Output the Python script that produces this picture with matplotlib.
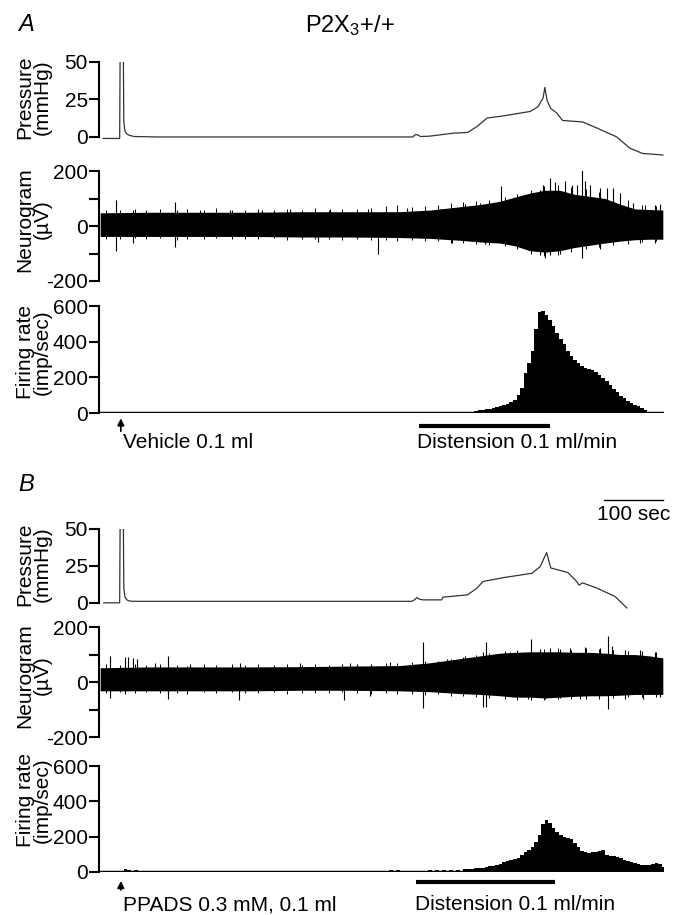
import matplotlib.pyplot as plt
import matplotlib.transforms as mtransforms

plt.rcParams['font.family'] = ['Liberation Sans', 'DejaVu Sans']

# time axis in seconds
T_MAX = 958
BIN = 6

# --- pressure traces (sec, mmHg)
press_a_t = [7, 33, 35, 36, 41, 42, 44, 47, 52, 60, 100, 300, 532, 536, 540, 545, 560, 580, 600,
             625, 641, 658, 685, 731, 744, 753, 756, 760, 766, 776, 786, 820, 844, 878, 900, 922, 956]
press_a_v = [-1, -1, -1, 70, 70, 10, 4, 2, 1, 0.3, 0, 0, 0, 1.5, 1.5, 0.3, 0.5, 1.5, 2.5,
             3, 7, 12.6, 14, 17, 20, 26, 33, 24, 19, 16, 11, 10, 6, 0, -7.5, -11, -12]
press_b_t = [8, 34, 35, 36, 41, 42, 44, 47, 52, 60, 100, 300, 530, 535, 539, 543, 549, 581, 583,
             625, 641, 651, 685, 734, 748, 759, 766, 795, 810, 814, 820, 844, 875, 895]
press_b_v = [0, 0, 0, 70, 70, 10, 4, 2, 1.2, 1, 1, 1, 1, 2, 3.6, 2.5, 2, 2, 3.8,
             5.4, 10, 14.4, 17, 20, 24.5, 34, 23.6, 20.5, 14.4, 12, 13.5, 10, 4.3, -3.5]

# --- neurogram envelopes (sec, uV)
env_t = [2, 86, 171, 256, 341, 425, 510, 561, 612, 646, 680, 705, 731, 756, 781, 807, 832, 858, 883, 909, 934, 956]
neuro_a_up = [48, 50, 50, 50, 52, 52, 52, 58, 70, 78, 90, 105, 120, 130, 130, 115, 108, 100, 80, 62, 60, 58]
neuro_a_lo = [-38, -38, -38, -38, -40, -40, -42, -45, -52, -58, -62, -72, -90, -95, -90, -78, -70, -62, -55, -50, -48, -48]
neuro_b_up = [52, 55, 55, 55, 56, 58, 60, 70, 85, 95, 105, 108, 110, 110, 110, 108, 108, 105, 100, 100, 95, 88]
neuro_b_lo = [-32, -32, -32, -32, -30, -30, -32, -35, -42, -45, -50, -55, -55, -58, -55, -52, -50, -50, -48, -45, -45, -45]

# small ragged fringe along the band edges
fringe_t = [12, 35, 61, 80, 104, 133, 150, 178, 199, 226, 247, 270, 296, 318, 345, 366, 390, 412, 437, 462,
            486, 505, 530, 552, 575, 597, 618, 640, 662, 688, 709, 733, 755, 778, 800, 826, 848, 872, 897, 920, 944]
fringe_a_up = [60, 57, 62, 58, 63, 59, 61, 57, 64, 58, 60, 63, 57, 62, 59, 64, 58, 61, 63, 66,
               72, 75, 70, 74, 78, 84, 88, 92, 95, 105, 118, 132, 145, 150, 142, 135, 125, 118, 95, 75, 72]
fringe_a_lo = [-46, -49, -44, -48, -45, -50, -46, -47, -44, -49, -46, -48, -45, -50, -47, -49, -46, -50, -48, -52,
               -51, -54, -52, -56, -55, -60, -62, -66, -70, -74, -82, -100, -108, -104, -95, -85, -78, -70, -64, -58, -56]
fringe_b_up = [64, 62, 66, 61, 65, 63, 60, 66, 62, 65, 61, 64, 63, 66, 62, 65, 63, 66, 64, 67,
               68, 70, 72, 75, 78, 82, 92, 100, 105, 112, 118, 122, 120, 125, 118, 122, 120, 116, 112, 113, 108]
fringe_b_lo = [-40, -38, -41, -37, -40, -39, -42, -38, -40, -37, -41, -39, -38, -42, -40, -39, -41, -38, -40, -42,
               -41, -44, -43, -46, -45, -50, -52, -55, -58, -62, -64, -66, -65, -63, -62, -60, -60, -58, -56, -55, -53]

# single spikes sticking out of the band
spk_a_up_t = [29, 58, 129, 171, 222, 276, 324, 392, 456, 522, 578, 620, 646, 681, 714, 747, 753, 764,
              773, 790, 802, 810, 819, 824, 832, 849, 861, 871, 883, 905, 925, 942, 951]
spk_a_up_v = [95, 60, 87, 60, 58, 60, 62, 62, 62, 65, 62, 80, 82, 145, 105, 130, 150, 175,
              160, 165, 150, 150, 204, 165, 150, 140, 140, 140, 120, 85, 78, 75, 80]
spk_a_lo_t = [29, 58, 129, 371, 473, 598, 654, 747, 756, 764, 781, 819, 849, 917, 942]
spk_a_lo_v = [-90, -62, -75, -58, -102, -60, -65, -105, -116, -105, -100, -116, -85, -60, -60]
spk_b_up_t = [19, 44, 49, 58, 64, 95, 117, 154, 239, 341, 425, 493, 549, 590, 620, 651, 656, 680,
              697, 732, 747, 764, 781, 798, 824, 849, 863, 870, 892, 917, 942]
spk_b_up_v = [94, 90, 90, 88, 85, 70, 94, 65, 70, 68, 70, 72, 145, 85, 95, 110, 145, 100,
              110, 156, 120, 125, 120, 125, 128, 125, 167, 130, 115, 115, 110]
spk_b_lo_t = [19, 44, 117, 237, 415, 459, 549, 651, 656, 727, 756, 781, 815, 863, 892, 922, 951]
spk_b_lo_v = [-58, -45, -60, -65, -66, -50, -95, -91, -91, -60, -62, -58, -60, -98, -62, -60, -55]

# --- firing rate histograms (6 s bins, imp/sec)
rate_t0 = 624
rate_a = [4, 8, 12, 16, 19, 23, 25, 29, 34, 38, 44, 50, 60, 75, 100, 140, 224, 280, 350, 470,
          566, 572, 550, 520, 490, 449, 415, 390, 350, 320, 295, 280, 262, 252, 248, 242, 228, 212,
          196, 178, 155, 137, 118, 98, 82, 70, 58, 46, 38, 28, 15]
rate_b = [18, 19, 20, 22, 25, 28, 32, 36, 40, 48, 58, 62, 66, 71, 78, 95, 113, 122, 140, 170,
          210, 270, 294, 280, 250, 226, 208, 198, 194, 185, 164, 140, 118, 113, 110, 115, 112, 118,
          125, 98, 92, 88, 84, 78, 70, 62, 55, 50, 46, 40, 38, 42, 46, 52, 45, 30]
rate_b_base_t = [42, 48, 54, 60, 66, 480, 492, 504, 516, 558, 570, 582, 594, 606, 618]
rate_b_base_v = [16, 9, 8, 9, 7, 7, 9, 10, 8, 9, 10, 12, 11, 14, 15]

distension_a = (543, 765)
distension_b = (538, 773)
inject_t = 37

fig = plt.figure(figsize=(6.75, 9.15), dpi=100)
L, W = 0.1467, 0.837
FS = 15

def style(ax, lo, hi, ticks, labels):
    ax.set_xlim(0, T_MAX)
    for s in ['top', 'right', 'bottom']:
        ax.spines[s].set_visible(False)
    ax.spines['left'].set_bounds(lo, hi)
    ax.spines['left'].set_linewidth(1.5)
    ax.set_xticks([])
    ax.set_yticks(ticks)
    ax.set_yticklabels(labels)
    ax.tick_params(axis='y', length=7, width=1.5, pad=1, labelsize=FS)

def pressure(bottom, h, t, v):
    ax = fig.add_axes([L, bottom, W, h])
    ax.plot(t, v, color='#333333', lw=0.9)
    ax.set_ylim(-13, 50)
    style(ax, 0, 50, [0, 25, 50], ['0', '25', '50'])
    return ax

def neurogram(bottom, up, lo, fup, flo, sut, suv, slt, slv):
    ax = fig.add_axes([L, bottom, W, 0.1202])
    ax.fill_between(env_t, lo, up, color='black', lw=0)
    ax.vlines(fringe_t, 0, fup, color='black', lw=0.7)
    ax.vlines(fringe_t, flo, 0, color='black', lw=0.7)
    ax.vlines(sut, 0, suv, color='black', lw=0.8)
    ax.vlines(slt, slv, 0, color='black', lw=0.8)
    ax.set_ylim(-200, 200)
    style(ax, -200, 200, [-200, -100, 0, 100, 200], ['-200', '', '0', '', '200'])
    return ax

def firing(bottom, h, rates, base_t=(), base_v=()):
    ax = fig.add_axes([L, bottom, W, h])
    starts = [rate_t0 + BIN * i for i in range(len(rates))]
    ax.bar(starts, rates, width=BIN, align='edge', color='black', lw=0)
    if len(base_t):
        ax.bar(base_t, base_v, width=BIN, align='edge', color='black', lw=0)
    ax.plot([0, T_MAX], [0, 0], color='black', lw=2.5, solid_capstyle='butt')
    ax.set_ylim(0, 600)
    style(ax, 0, 600, [0, 200, 400, 600], ['0', '200', '400', '600'])
    return ax

def marks(ax, dist, arrow_y, bar_y, text_y, label):
    tr = mtransforms.blended_transform_factory(ax.transData, ax.transAxes)
    ax.annotate('', xy=(inject_t, arrow_y[0]), xytext=(inject_t, arrow_y[1]),
                xycoords=tr, textcoords=tr,
                arrowprops=dict(arrowstyle='-|>', color='black', lw=1.2, mutation_scale=10,
                                shrinkA=0, shrinkB=0))
    ax.text(inject_t + 3, text_y, label, transform=tr, fontsize=FS, ha='left', va='center')
    ax.plot(dist, [bar_y, bar_y], transform=tr, color='black', lw=3, clip_on=False,
            solid_capstyle='butt')
    ax.text(dist[0] - 3, text_y, 'Distension 0.1 ml/min', transform=tr, fontsize=FS,
            ha='left', va='center')

# panel A
pressure(0.829, 0.1033, press_a_t, press_a_v)
neurogram(0.6929, neuro_a_up, neuro_a_lo, fringe_a_up, fringe_a_lo,
          spk_a_up_t, spk_a_up_v, spk_a_lo_t, spk_a_lo_v)
fa = firing(0.5486, 0.1169, rate_a)
marks(fa, distension_a, (-0.05, -0.17), -0.121, -0.28, 'Vehicle 0.1 ml')

# panel B
pb = pressure(0.3202, 0.1017, press_b_t, press_b_v)
neurogram(0.1945, neuro_b_up, neuro_b_lo, fringe_b_up, fringe_b_lo,
          spk_b_up_t, spk_b_up_v, spk_b_lo_t, spk_b_lo_v)
fb = firing(0.047, 0.1158, rate_b, rate_b_base_t, rate_b_base_v)
marks(fb, distension_b, (-0.085, -0.17), -0.094, -0.31, 'PPADS 0.3 mM, 0.1 ml')

# 100 sec scale bar
pb.plot([856, 956], [69.5, 69.5], color='black', lw=1, clip_on=False)
pb.text(906, 59.5, '100 sec', fontsize=FS, ha='center', va='center')

# y labels
for y, txt in [(0.894, 'Pressure\n(mmHg)'), (0.760, 'Neurogram\n(µV)'), (0.615, 'Firing rate\n(imp/sec)'),
               (0.383, 'Pressure\n(mmHg)'), (0.262, 'Neurogram\n(µV)'), (0.126, 'Firing rate\n(imp/sec)')]:
    fig.text(0.0496, y, txt, rotation=90, ha='center', va='center', fontsize=FS,
             linespacing=0.85, multialignment='center')

fig.text(0.027, 0.973, 'A', fontsize=17, style='italic', ha='left', va='center')
fig.text(0.027, 0.470, 'B', fontsize=17, style='italic', ha='left', va='center')
fig.text(0.519, 0.972, r'P2X$\mathregular{_3}$+/+', fontsize=17, ha='center', va='center')

fig.savefig('out.png', dpi=100)
